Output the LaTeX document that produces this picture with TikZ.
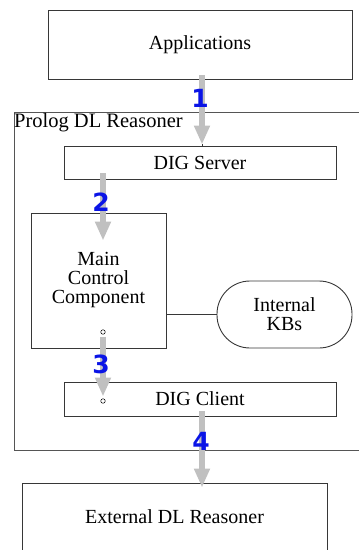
\documentclass[tikz,border=0pt]{standalone}
\usepackage{fontspec}
\setmainfont{Liberation Serif}
\newfontfamily\boxfont{Liberation Serif}
\newfontfamily\numfont{DejaVu Sans}
\usetikzlibrary{arrows.meta,calc}
\definecolor{arrowgray}{RGB}{192,192,192}
\definecolor{numblue}{RGB}{10,20,230}
\definecolor{edge}{RGB}{55,55,55}
\begin{document}
\begin{tikzpicture}[x=1pt,y=-1pt,
 box/.style={draw=edge,line width=0.9pt,fill=white,inner sep=0pt,align=center,font=\boxfont\fontsize{20}{19}\selectfont},
 frame/.style={draw=edge!85,line width=0.9pt,inner sep=0pt},
 flow/.style={draw=arrowgray,line width=6pt,-{Triangle[width=15pt,length=19pt]}},
 num/.style={text=numblue,font=\numfont\bfseries\fontsize{25}{25}\selectfont,inner sep=0pt},
 dot/.style={circle,draw=black,fill=white,line width=0.5pt,minimum size=4.5pt,inner sep=0pt},
 link/.style={draw=edge,line width=0.9pt}]
\useasboundingbox (0,0) rectangle (359,550);
% outer frame
\node[frame,anchor=north west,minimum width=361pt,minimum height=338pt] (prolog) at (14,112) {};
\node[anchor=base west,inner sep=0pt,font=\boxfont\fontsize{20.5}{20}\selectfont] (plabel) at (14,127) {Prolog DL Reasoner};
% boxes
\node[box,minimum width=304pt,minimum height=69pt] (app) at (200,44.5) {Applications};
\node[box,minimum width=272pt,minimum height=33pt] (dserv) at (200,162.5) {DIG Server};
\node[box,minimum width=135pt,minimum height=135pt] (main) at (98.5,280.5) {Main\\Control\\Component};
\node[box,minimum width=135pt,minimum height=67pt,rounded corners=33pt] (kbs) at (284.5,314.5) {Internal\\KBs};
\node[box,minimum width=272pt,minimum height=34pt] (dcl) at (200,399) {DIG Client};
\node[box,minimum width=305pt,minimum height=94pt] (ext) at (174.5,530) {};
\node[inner sep=0pt,font=\boxfont\fontsize{20}{19}\selectfont] (extlabel) at (174.5,517) {External DL Reasoner};
% connector to KBs
\draw[link] (kbs.west) -- (kbs.west -| main.east);
% small circles
\node[dot] (c1) at (103,332) {};
\node[dot] (c2) at (103,401) {};
% flow arrows
\draw[flow] ([xshift=2pt,yshift=4pt]app.south) -- ([xshift=2pt,yshift=1pt]dserv.north);
\draw[link,line width=0.6pt] ([xshift=2pt,yshift=1.5pt]dserv.north) -- ([xshift=2pt]dserv.north);
\draw[flow] ([xshift=-97pt,yshift=6pt]dserv.south) -- ([xshift=4.5pt,yshift=-28pt]main.north);
\draw[flow] ([yshift=-2pt]c1.south) -- ([yshift=2pt]c2.north);
\draw[flow] ([xshift=2pt,yshift=5pt]dcl.south) -- ([xshift=27.5pt,yshift=-5pt]ext.north);
% numbers
\node[num] (n1) at (200,98) {1};
\node[num] (n2) at (101,202) {2};
\node[num] (n3) at (101,364) {3};
\node[num] (n4) at (201,441) {4};
\end{tikzpicture}
\end{document}
